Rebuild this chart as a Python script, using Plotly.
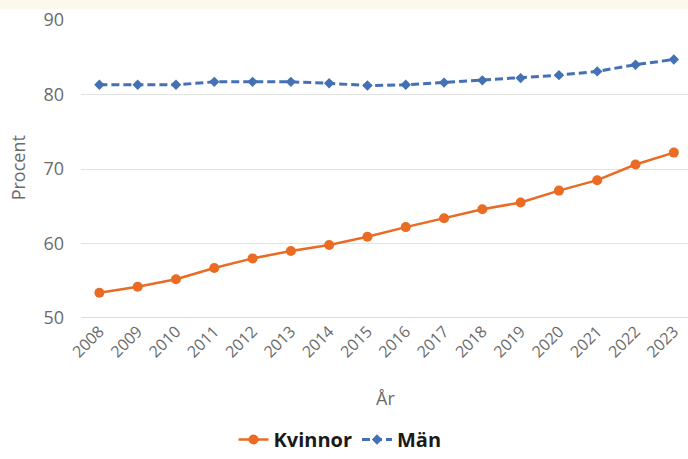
import plotly.graph_objects as go

years = list(range(2008, 2024))
kvinnor = [53.4, 54.2, 55.2, 56.7, 58.0, 59.0, 59.8, 60.9, 62.2, 63.4, 64.6, 65.5, 67.1, 68.5, 70.6, 72.2]
man = [81.3, 81.3, 81.3, 81.7, 81.7, 81.7, 81.5, 81.2, 81.3, 81.6, 81.9, 82.2, 82.6, 83.1, 84.0, 84.7]
y_ticks = [50, 60, 70, 80, 90]

ORANGE = "#ea6b23"
BLUE = "#4470b4"
TICK_GRAY = "#6b6b6b"
FONT = "Open Sans"

fig = go.Figure()
fig.add_trace(go.Scatter(
    x=years, y=kvinnor, name="Kvinnor", mode="lines+markers",
    line=dict(color=ORANGE, width=2.5),
    marker=dict(symbol="circle", size=10, color=ORANGE),
))
fig.add_trace(go.Scatter(
    x=years, y=man, name="Män", mode="lines+markers",
    line=dict(color=BLUE, width=3, dash="8px,4px"),
    marker=dict(symbol="diamond", size=8, color=BLUE),
))

# thin cream band along the top edge
fig.add_shape(type="rect", xref="paper", yref="paper",
              x0=-0.2, x1=1.2, y0=1.036, y1=1.08,
              fillcolor="#fdf8ec", line=dict(width=0), layer="below")

fig.add_annotation(text="Procent", xref="paper", yref="paper",
                   x=(18 - 81) / 607, y=(318.3 - 168.5) / 298.3,
                   xanchor="center", yanchor="middle",
                   textangle=-90, showarrow=False,
                   font=dict(family=FONT, size=18, color=TICK_GRAY))
fig.add_annotation(text="År", xref="paper", yref="paper",
                   x=(385 - 81) / 607, y=(318.3 - 398) / 298.3,
                   xanchor="center", yanchor="middle", showarrow=False,
                   font=dict(family=FONT, size=18, color=TICK_GRAY))

fig.update_layout(
    width=688, height=459,
    margin=dict(l=81, r=0, t=20, b=141),
    paper_bgcolor="white", plot_bgcolor="white",
    font=dict(family=FONT, color=TICK_GRAY),
    showlegend=True,
    legend=dict(orientation="h", xref="container", yref="container",
                x=340 / 688, xanchor="center",
                y=-0.013, yanchor="bottom",
                font=dict(family=FONT, size=20, color="#1a1a1a", weight="bold"),
                itemwidth=30, traceorder="normal"),
)
fig.update_xaxes(
    range=[2007.52, 2023.37], tickmode="array", tickvals=years,
    ticktext=[str(y) for y in years], tickangle=-45,
    tickfont=dict(family=FONT, size=16, color=TICK_GRAY),
    showgrid=False, zeroline=False, showline=False, ticks="",
    automargin=False,
)
fig.update_yaxes(
    range=[50, 90], tickmode="array", tickvals=y_ticks,
    tickfont=dict(family=FONT, size=18, color=TICK_GRAY),
    showgrid=True, gridcolor="#e2e2e2", gridwidth=1,
    zeroline=False, showline=False, ticks="", ticklabelstandoff=16,
    automargin=False,
)
# light blue baseline at 50
fig.add_shape(type="line", xref="paper", yref="y", x0=0, x1=1, y0=50, y1=50,
              line=dict(color="#c6d3ea", width=1.5), layer="below")

fig.write_html("out.html")
